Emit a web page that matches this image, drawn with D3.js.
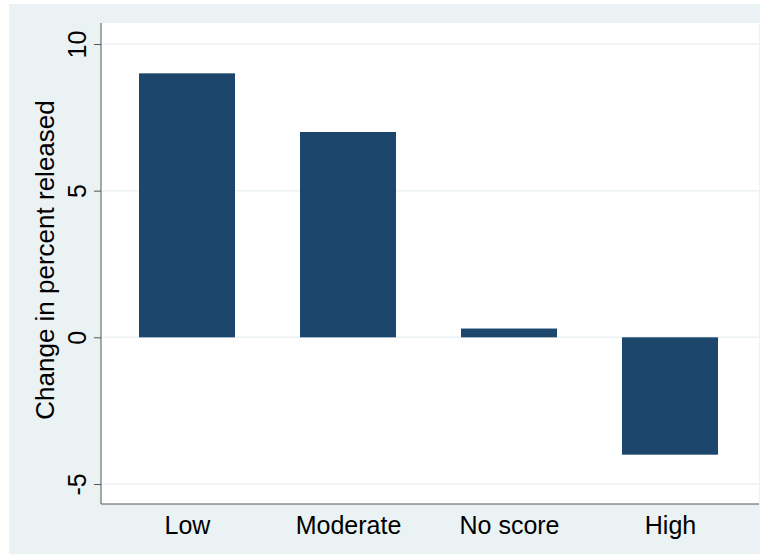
<!DOCTYPE html><html><head><meta charset="utf-8"><script src="https://cdn.jsdelivr.net/npm/d3@7"></script>
<style>body{margin:0;background:#fff}</style></head><body><script>
const categories=["Low","Moderate","No score","High"];
const values=[9,7,0.3,-4];
const yTicks=[-5,0,5,10];
const W=764,H=558;
const svg=d3.select("body").append("svg").attr("width",W).attr("height",H);
svg.append("rect").attr("x",9).attr("y",4).attr("width",751).attr("height",550).attr("fill","#eaf2f3");
const L=101,R=759,T=23,B=504;
svg.append("rect").attr("x",L).attr("y",T).attr("width",R-L).attr("height",B-T).attr("fill","#fff");
const y=d3.scaleLinear().domain([-5,10]).range([484,44]);
const x=d3.scalePoint().domain(categories).range([187,670]);
const g=svg.append("g").style("font-family","Liberation Sans, Arial, sans-serif");
g.selectAll(".grid").data(yTicks).enter().append("line").attr("x1",L).attr("x2",R).attr("y1",d=>y(d)).attr("y2",d=>y(d)).attr("stroke","#eaf2f3").attr("stroke-width",1.5);
g.selectAll(".bar").data(values).enter().append("rect").attr("x",(d,i)=>x(categories[i])-48).attr("width",96)
 .attr("y",d=>y(Math.max(0,d))).attr("height",d=>Math.abs(y(d)-y(0))).attr("fill","#1c466c");
const ya=g.append("g").attr("transform",`translate(${L},0)`).call(d3.axisLeft(y).tickValues(yTicks).tickFormat(d=>String(d)).tickSize(7).tickPadding(4));
ya.select(".domain").attr("d",`M0,${T}V${B}`).attr("stroke","#555");
ya.selectAll(".tick line").attr("stroke","#555");
ya.selectAll(".tick text").attr("transform","rotate(-90)").attr("x",0).attr("y",-15).attr("dy","0").attr("text-anchor","middle").attr("font-size",25).attr("fill","#000");
const xa=g.append("g").attr("transform",`translate(0,${B})`).call(d3.axisBottom(x).tickSize(0).tickPadding(6));
xa.select(".domain").attr("d",`M${L},0H${R}`).attr("stroke","#555");
xa.selectAll(".tick text").attr("font-size",25).attr("fill","#000").attr("dy","0.95em");
g.append("text").attr("transform","rotate(-90)").attr("x",-260).attr("y",54).attr("text-anchor","middle").attr("font-size",26).text("Change in percent released");
</script></body></html>
